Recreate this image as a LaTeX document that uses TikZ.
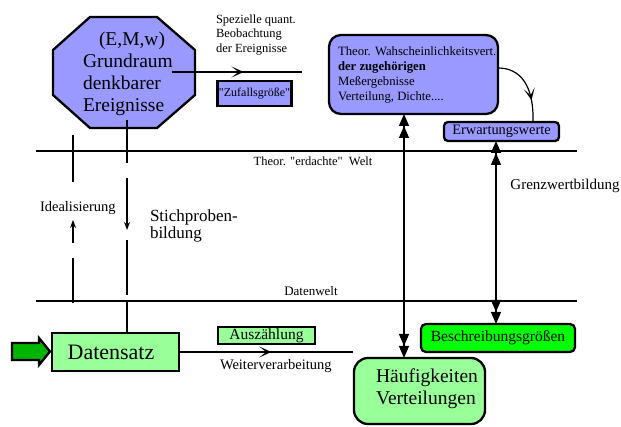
\documentclass[tikz,border=0pt]{standalone}
\usepackage{fontspec}
\setmainfont{Liberation Serif}[Ligatures=TeXOff]
\usetikzlibrary{arrows.meta,decorations.markings}
\definecolor{lav}{HTML}{9999FF}
\definecolor{lgreen}{HTML}{99FF99}
\definecolor{bgreen}{HTML}{00FF00}
\definecolor{dgreen}{HTML}{00B400}
\newcommand\fs[2]{\fontsize{#1}{#2}\selectfont}
\tikzset{
  dt/.tip={Triangle[width=10pt,length=12pt,sep=0pt] Triangle[width=10pt,length=12pt,sep=0pt]},
  chev/.tip={Stealth[length=12pt,width=11pt,inset=7pt]},
  small/.tip={Stealth[length=8pt,width=6pt]},
}
\begin{document}
\begin{tikzpicture}[x=1pt,y=-1pt,
  every node/.style={inner sep=0pt,outer sep=0pt},
  bx/.style={draw,line width=2.3pt,rectangle},
  ln/.style={line width=1.2pt},
  world/.style={line width=1.5pt},
  midarrow/.style={postaction={decorate,decoration={markings,mark=at position #1 with {\arrow{chev}}}}}]
\useasboundingbox (0,0) rectangle (621,427);

% octagon
\draw[line width=2.3pt,fill=lav,line join=miter] (90,17) -- (157,17) -- (195,50) -- (195,95) -- (157,128) -- (90,128) -- (53,95) -- (53,50) -- cycle;
\node[anchor=west,align=left,font=\fs{19.5}{22}] (octtxt) at (83,74) {\hspace*{16pt}(E,M,w)\\Grundraum\\denkbarer\\Ereignisse};

% top middle
\node[anchor=west,align=left,font=\fs{12.5}{14.3}] (spez) at (216,35) {Spezielle quant.\\Beobachtung\\der Ereignisse};
\coordinate (octout) at (172,72);
\coordinate (octend) at (302,72);
\draw[ln,midarrow=0.55] (octout) -- (octend);
\node[bx,fill=lav,minimum width=74pt,minimum height=25pt,font=\fs{12}{14}] (zuf) at (254.5,93.5) {"Zufallsgröße"};

% theoretical box
\node[bx,fill=lav,rounded corners=12pt,minimum width=169pt,minimum height=79pt] (theor) at (413.5,74.5) {};
\node[anchor=west,align=left,font=\fs{12.7}{15}] (theortxt) at (338,75) {Theor. Wahscheinlichkeitsvert.\\\textbf{der zugehörigen}\\Meßergebnisse\\Verteilung, Dichte....};
\node[bx,fill=lav,rounded corners=4pt,minimum width=115pt,minimum height=19pt,font=\fs{14.4}{16}] (erw) at (501.5,131.5) {Erwartungswerte};
\draw[ln,midarrow=0.7] ([yshift=6.5pt]theor.east) .. controls (520,68) and (534,85) .. ([xshift=31.5pt]erw.north);

% world lines
\coordinate (w1l) at (36,151); \coordinate (w1r) at (577,151);
\coordinate (w2l) at (36,301); \coordinate (w2r) at (577,301);
\draw[world] (w1l) -- (w1r);
\draw[world] (w2l) -- (w2r);
\node[font=\fs{12.5}{14}] (lab1) at (313,161) {Theor. "erdachte"\ \ Welt};
\node[font=\fs{13}{14}] (lab2) at (311,291) {Datenwelt};

\node[font=\fs{15}{16}] (grenz) at (565,186) {Grenzwertbildung};
\node[anchor=west,font=\fs{14.5}{16}] (ideal) at (40,208) {Idealisierung};
\node[anchor=west,align=left,font=\fs{17}{17}] (stich) at (150,226) {Stichproben-\\bildung};

% dashed verticals
\draw[ln] (73,135) -- (73,182);
\draw[ln,-small] (73,243) -- (73,220);
\draw[ln] (73,258) -- (73,303);
\draw[ln] (127,120) -- (127,163);
\draw[ln,-small] (127,178) -- (127,230);
\draw[ln] (127,240) -- (127,295);

% data world
\node[bx,fill=lgreen,minimum width=127pt,minimum height=38pt] (ds) at (115.5,352) {};
\node[font=\fs{22}{24}] (dstxt) at (111,352) {Datensatz};
\coordinate (dl) at (127,302);
\draw[ln] (dl) -- (dl |- ds.north);
\draw[line width=2.3pt,fill=dgreen,line join=miter] (12,343) -- (39,343) -- (39,338) -- (50,351.5) -- (39,365) -- (39,360) -- (12,360) -- cycle;
\node[bx,fill=lgreen,minimum width=97pt,minimum height=17pt,font=\fs{15.5}{16}] (ausz) at (266.5,335.5) {Auszählung};
\node[anchor=west,font=\fs{14.5}{16}] (weiter) at (220,366) {Weiterverarbeitung};
\coordinate (dsend) at (353,352);
\draw[ln,midarrow=0.53] (ds.east) -- (dsend);

\node[bx,fill=bgreen,rounded corners=5pt,minimum width=154pt,minimum height=28pt,font=\fs{15.5}{16}] (besch) at (498,338) {Beschreibungsgrößen};
\node[bx,fill=lgreen,rounded corners=14pt,minimum width=131pt,minimum height=66pt] (haeuf) at (419.5,391) {};
\node[align=left,font=\fs{19.5}{22}] (haeuftxt) at (427,389) {Häufigkeiten\\Verteilungen};

% vertical double arrows
\coordinate (v1) at (404,0);
\coordinate (v2) at (496,0);
\draw[ln,dt-dt] (v1 |- theor.south) -- (v1 |- haeuf.north);
\draw[ln,dt-dt] (v2 |- erw.south) -- (v2 |- besch.north);
\end{tikzpicture}
\end{document}
